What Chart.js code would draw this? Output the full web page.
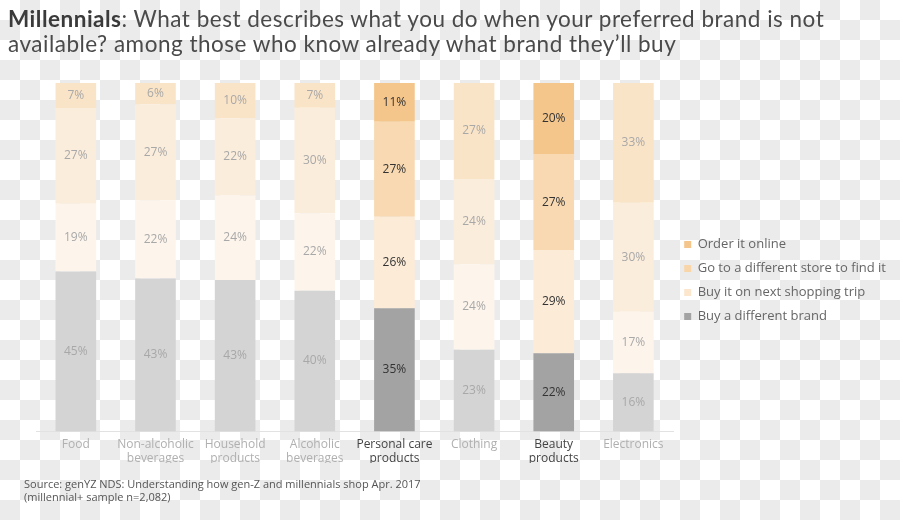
<!DOCTYPE html>
<html><head><meta charset="utf-8">
<script src="https://cdn.jsdelivr.net/npm/chart.js@4.4.1/dist/chart.umd.min.js"></script>
<style>
html,body{margin:0;padding:0;}
body{width:900px;height:520px;overflow:hidden;position:relative;
background:repeating-conic-gradient(#ebebeb 0 25%, #ffffff 0 50%) 0 0/40px 40px;}
#wrap{position:absolute;left:0;top:0;width:900px;height:520px;}
#title{position:absolute;left:8px;top:6px;font-family:Lato,"Open Sans",sans-serif;font-size:22.5px;letter-spacing:0.5px;line-height:25px;color:#4a4a4a;white-space:nowrap;}
#title b{color:#3a3a3a;font-weight:bold;}
#source{position:absolute;left:24px;top:477px;font-family:"Open Sans",sans-serif;font-size:11px;line-height:13px;color:#555;white-space:nowrap;}
</style></head>
<body>
<div id="wrap"><canvas id="c" width="900" height="520"></canvas></div>
<div id="title"><b>Millennials</b>: What best describes what you do when your preferred brand is not<br>available? among those who know already what brand they’ll buy</div>
<div id="source">Source: genYZ NDS: Understanding how gen-Z and millennials shop Apr. 2017<br>(millennial+ sample n=2,082)</div>
<script>
const categories = [['Food'], ['Non-alcoholic','beverages'], ['Household','products'], ['Alcoholic','beverages'], ['Personal care','products'], ['Clothing'], ['Beauty','products'], ['Electronics']];
const highlighted = [false, false, false, false, true, false, true, false];
const seriesNames = ['Buy a different brand', 'Buy it on next shopping trip', 'Go to a different store to find it', 'Order it online'];
const differentBrand = [45, 43, 43, 40, 35, 23, 22, 16];
const nextTrip       = [19, 22, 24, 22, 26, 24, 29, 17];
const differentStore = [27, 27, 22, 30, 27, 24, 27, 30];
const orderOnline    = [7, 6, 10, 7, 11, 27, 20, 33];

const fullColors  = ['#a3a3a3', '#fcebd7', '#f8d9b1', '#f5c68b'];
const fadedColors = ['#d4d4d4', '#fdf5ec', '#fbeddc', '#fae4c7'];
const legendColors = ['#a3a3a3', '#fce6cd', '#f9d6a9', '#f5c68b'];

const rawSeries = [differentBrand, nextTrip, differentStore, orderOnline];
const totals = categories.map((_, i) => rawSeries.reduce((s, arr) => s + arr[i], 0));

const datasets = rawSeries.map((arr, di) => ({
  label: seriesNames[di],
  rawValues: arr,
  data: arr.map((v, i) => v / totals[i] * 100),
  backgroundColor: ctx => highlighted[ctx.dataIndex] ? fullColors[di] : fadedColors[di],
  borderWidth: 0,
  barPercentage: 0.51,
  categoryPercentage: 1.0
}));

const segLabels = {
  id: 'segLabels',
  afterDatasetsDraw(chart) {
    const ctx = chart.ctx;
    ctx.save();
    ctx.font = '12px "Open Sans", sans-serif';
    ctx.textAlign = 'center';
    ctx.textBaseline = 'middle';
    chart.data.datasets.forEach((ds, di) => {
      const meta = chart.getDatasetMeta(di);
      meta.data.forEach((bar, i) => {
        const p = bar.getProps(['x', 'y', 'base'], true);
        ctx.fillStyle = highlighted[i] ? '#333333' : '#a8a8a8';
        ctx.fillText(ds.rawValues[i] + '%', p.x, (p.y + p.base) / 2);
      });
    });
    ctx.restore();
  }
};

new Chart(document.getElementById('c'), {
  type: 'bar',
  data: { labels: categories, datasets },
  plugins: [segLabels],
  options: {
    responsive: false,
    animation: false,
    layout: { padding: { left: 36, top: 83, bottom: 57, right: 4 } },
    scales: {
      x: {
        stacked: true,
        grid: { display: false },
        border: { color: '#e2e2e2', width: 1 },
        ticks: {
          font: { family: '"Open Sans", sans-serif', size: 12, lineHeight: 1.15 },
          color: ctx => highlighted[ctx.index] ? '#444444' : '#b0b0b0',
          padding: -2,
          maxRotation: 0,
          autoSkip: false
        }
      },
      y: { stacked: true, display: false, min: 0, max: 100 }
    },
    plugins: {
      tooltip: { enabled: false },
      legend: {
        position: 'right',
        reverse: true,
        title: { display: true, text: '', font: { size: 10, lineHeight: 1.5 }, padding: 0 },
        labels: {
          boxWidth: 7,
          boxHeight: 7,
          padding: 11,
          color: '#555555',
          font: { family: '"Open Sans", sans-serif', size: 13 },
          generateLabels: chart => chart.data.datasets.map((ds, i) => ({
            text: ds.label, fillStyle: legendColors[i], strokeStyle: legendColors[i],
            lineWidth: 0, datasetIndex: i, hidden: false
          }))
        }
      }
    }
  }
});
</script>
</body></html>
